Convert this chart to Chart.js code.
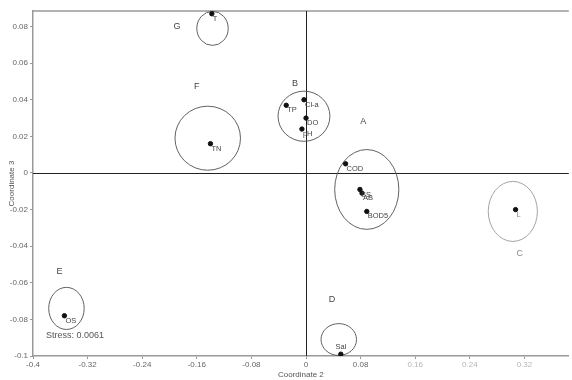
<!DOCTYPE html>
<html>
<head>
<meta charset="utf-8">
<script src="https://cdn.jsdelivr.net/npm/chart.js@4.4.1/dist/chart.umd.min.js"></script>
<style>
  body { margin: 0; background: #fff; }
</style>
</head>
<body>
<canvas id="mds-chart" width="572" height="380"></canvas>
<script>
// variables in MDS space
const vars = ['T', 'Cl-a', 'TP', 'DO', 'pH', 'TN', 'COD', 'SS', 'AB', 'BOD5', 'L', 'OS', 'Sal'];
const coord2 = [-0.138, -0.003, -0.029, 0.000, -0.006, -0.140, 0.058, 0.079, 0.082, 0.089, 0.307, -0.354, 0.051];
const coord3 = [0.087, 0.040, 0.037, 0.030, 0.024, 0.016, 0.005, -0.009, -0.011, -0.021, -0.020, -0.078, -0.099];

// groups (ellipses) and their letters
const groups = ['G', 'F', 'B', 'A', 'C', 'E', 'D'];
const groupX = [-0.137, -0.144, -0.003, 0.089, 0.303, -0.351, 0.048];
const groupY = [0.079, 0.019, 0.031, -0.009, -0.021, -0.074, -0.091];
const groupRx = [0.023, 0.048, 0.038, 0.047, 0.036, 0.026, 0.026];
const groupRy = [0.0093, 0.0175, 0.0137, 0.0218, 0.0164, 0.0115, 0.0087];
const groupLabelX = [-0.189, -0.160, -0.016, 0.084, 0.313, -0.361, 0.038];
const groupLabelY = [0.080, 0.047, 0.049, 0.028, -0.044, -0.054, -0.069];

const stressText = 'Stress: 0.0061';
const stressX = -0.381;
const stressY = -0.089;

const xTicks = [-0.4, -0.32, -0.24, -0.16, -0.08, 0, 0.08, 0.16, 0.24, 0.32];
const yTicks = [-0.1, -0.08, -0.06, -0.04, -0.02, 0, 0.02, 0.04, 0.06, 0.08];

const FONT = '"Liberation Sans", Arial, sans-serif';

const overlay = {
    id: 'overlay',
    beforeDatasetsDraw(chart) {
        const { ctx, chartArea, scales: { x, y } } = chart;
        ctx.save();
        // top frame
        ctx.strokeStyle = '#999';
        ctx.lineWidth = 1.5;
        ctx.beginPath();
        ctx.moveTo(chartArea.left, chartArea.top);
        ctx.lineTo(chartArea.right, chartArea.top);
        ctx.stroke();
        // zero lines
        ctx.strokeStyle = '#222';
        ctx.lineWidth = 1;
        ctx.beginPath();
        const x0 = Math.round(x.getPixelForValue(0)) + 0.5;
        const y0 = Math.round(y.getPixelForValue(0)) + 0.5;
        ctx.moveTo(x0, chartArea.top);
        ctx.lineTo(x0, chartArea.bottom);
        ctx.moveTo(chartArea.left, y0);
        ctx.lineTo(chartArea.right, y0);
        ctx.stroke();
        // group ellipses + letters
        groups.forEach(function (g, i) {
            const cx = x.getPixelForValue(groupX[i]);
            const cy = y.getPixelForValue(groupY[i]);
            const rx = Math.abs(x.getPixelForValue(groupX[i] + groupRx[i]) - cx);
            const ry = Math.abs(y.getPixelForValue(groupY[i] + groupRy[i]) - cy);
            const faded = g === 'C';
            ctx.strokeStyle = faded ? '#9a9a9a' : '#505050';
            ctx.lineWidth = 0.9;
            ctx.beginPath();
            ctx.ellipse(cx, cy, rx, ry, 0, 0, Math.PI * 2);
            ctx.stroke();
            ctx.fillStyle = faded ? '#8a8a8a' : '#444';
            ctx.font = '9px ' + FONT;
            ctx.textAlign = 'center';
            ctx.textBaseline = 'middle';
            ctx.fillText(g, x.getPixelForValue(groupLabelX[i]), y.getPixelForValue(groupLabelY[i]));
        });
        ctx.restore();
    },
    afterDatasetsDraw(chart) {
        const { ctx, scales: { x, y } } = chart;
        ctx.save();
        ctx.font = '7.5px ' + FONT;
        ctx.textBaseline = 'middle';
        vars.forEach(function (name, i) {
            const px = x.getPixelForValue(coord2[i]);
            const py = y.getPixelForValue(coord3[i]);
            ctx.fillStyle = name === 'L' ? '#888' : '#444';
            if (name === 'Sal') {
                ctx.textAlign = 'center';
                ctx.fillText(name, px, py - 7);
            } else {
                ctx.textAlign = 'left';
                ctx.fillText(name, px + 1, py + 5);
            }
        });
        // stress value
        ctx.font = '9px ' + FONT;
        ctx.fillStyle = '#555';
        ctx.textAlign = 'left';
        ctx.fillText(stressText, x.getPixelForValue(stressX), y.getPixelForValue(stressY));
        ctx.restore();
    }
};

const points = vars.map((v, i) => ({ x: coord2[i], y: coord3[i] }));

const ctx = document.getElementById('mds-chart').getContext('2d');
const myChart = new Chart(ctx, {
    type: 'scatter',
    data: {
        datasets: [{
            label: 'Variables',
            data: points,
            backgroundColor: '#111',
            borderColor: '#111',
            pointRadius: 2.2,
            pointHoverRadius: 2.2
        }]
    },
    options: {
        responsive: false,
        animation: false,
        layout: { padding: { top: 11, left: 0, right: 0, bottom: 0 } },
        plugins: {
            legend: { display: false },
            tooltip: { enabled: false }
        },
        scales: {
            x: {
                type: 'linear',
                min: -0.4,
                max: 0.385,
                afterBuildTicks: function (scale) {
                    scale.ticks = xTicks.map(v => ({ value: v }));
                },
                afterFit: function (scale) {
                    scale.height = 24;
                },
                ticks: {
                    callback: v => String(v),
                    // the right-hand labels are washed out in the original
                    color: c => (c.tick && c.tick.value > 0.1 ? '#b5b5b5' : '#666'),
                    font: { family: FONT, size: 8 },
                    padding: 1,
                    maxRotation: 0
                },
                grid: { drawOnChartArea: false, drawTicks: true, tickLength: 3, color: '#999' },
                border: { display: true, color: '#999', width: 1.5 },
                title: {
                    display: true,
                    text: 'Coordinate 2',
                    color: '#555',
                    font: { family: FONT, size: 8 },
                    padding: { top: 0, bottom: 0 }
                }
            },
            y: {
                type: 'linear',
                min: -0.1,
                max: 0.0885,
                afterBuildTicks: function (scale) {
                    scale.ticks = yTicks.map(v => ({ value: v }));
                },
                afterFit: function (scale) {
                    scale.width = 33;
                },
                ticks: {
                    callback: v => String(v),
                    color: '#666',
                    font: { family: FONT, size: 8 },
                    padding: 2
                },
                grid: { drawOnChartArea: false, drawTicks: true, tickLength: 3, color: '#999' },
                border: { display: true, color: '#999', width: 1.5 },
                title: {
                    display: true,
                    text: 'Coordinate 3',
                    color: '#555',
                    font: { family: FONT, size: 8 },
                    padding: { top: 7, bottom: 0 }
                }
            }
        }
    },
    plugins: [overlay]
});
</script>
</body>
</html>
